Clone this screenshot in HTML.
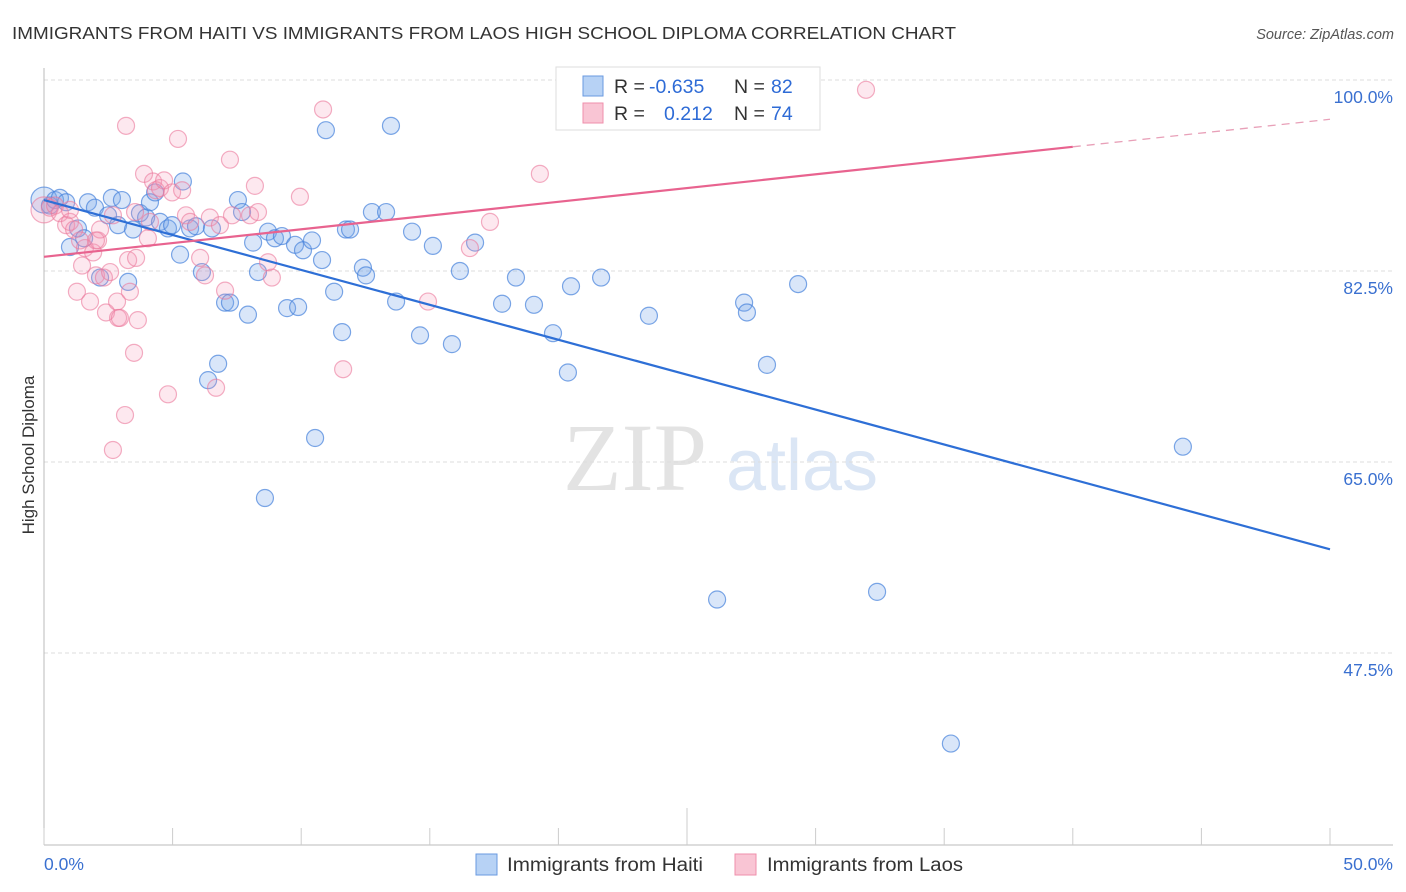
<!DOCTYPE html>
<html><head><meta charset="utf-8"><style>
body{margin:0;background:#fff;font-family:"Liberation Sans",sans-serif}
svg{display:block}
</style></head><body>
<svg id="c" width="1406" height="892" viewBox="0 0 1406 892">
<text x="12" y="39" font-size="17.5" fill="#333" textLength="944" lengthAdjust="spacingAndGlyphs">IMMIGRANTS FROM HAITI VS IMMIGRANTS FROM LAOS HIGH SCHOOL DIPLOMA CORRELATION CHART</text>
<text x="1394" y="39" font-size="14.5" fill="#555" text-anchor="end" font-style="italic">Source: ZipAtlas.com</text>
<text x="34" y="455" font-size="17" fill="#333" text-anchor="middle" transform="rotate(-90 34 455)">High School Diploma</text>
<g>
<text x="635" y="490" font-size="96" fill="#e3e3e3" font-family="Liberation Serif,serif" text-anchor="middle">ZIP</text>
<text x="802" y="490" font-size="72" fill="#dbe6f5" text-anchor="middle">atlas</text>
</g>
<g id="grid"></g><g id="pts"></g><g id="trend"></g>
<g>
<rect x="556" y="67" width="264" height="63" fill="#fff" stroke="#ddd"/>
<rect x="583" y="76" width="20" height="20" fill="#b7d2f5" stroke="#6a9ae0"/>
<rect x="583" y="103" width="20" height="20" fill="#f9c5d4" stroke="#ef8fab"/>
<text x="614" y="93" font-size="19.5" fill="#333">R =</text>
<text x="649" y="93" font-size="19.5" fill="#2e6bd6">-0.635</text>
<text x="734" y="93" font-size="19.5" fill="#333">N =</text>
<text x="771" y="93" font-size="19.5" fill="#2e6bd6">82</text>
<text x="614" y="120" font-size="19.5" fill="#333">R =</text>
<text x="664" y="120" font-size="19.5" fill="#2e6bd6">0.212</text>
<text x="734" y="120" font-size="19.5" fill="#333">N =</text>
<text x="771" y="120" font-size="19.5" fill="#2e6bd6">74</text>
</g>
<g>
<rect x="476" y="854" width="21" height="21" fill="#b7d2f5" stroke="#6a9ae0"/>
<text x="507" y="871" font-size="19" fill="#333" textLength="196" lengthAdjust="spacingAndGlyphs">Immigrants from Haiti</text>
<rect x="735" y="854" width="21" height="21" fill="#f9c5d4" stroke="#ef8fab"/>
<text x="767" y="871" font-size="19" fill="#333" textLength="196" lengthAdjust="spacingAndGlyphs">Immigrants from Laos</text>
</g>
</svg>
<script>
const yTicks=[100,82.5,65,47.5];
const yTickLabels=["100.0%","82.5%","65.0%","47.5%"];
const xTickVals=[0,5,10,15,20,25,30,35,40,45,50];
const xEndLabels=["0.0%","50.0%"];
const haitiX=[0,0.23,0.43,0.62,0.86,1.01,1.32,1.56,1.71,1.98,2.18,2.49,2.64,2.88,3.03,3.27,3.46,3.73,3.97,4.12,4.32,4.51,4.82,4.98,5.29,5.40,5.68,5.91,6.14,6.38,6.53,6.77,7.04,7.23,7.54,7.70,7.93,8.13,8.32,8.59,8.71,8.98,9.25,9.45,9.76,9.88,10.07,10.42,10.54,10.81,10.96,11.28,11.59,11.74,11.90,12.40,12.52,12.75,13.30,13.49,13.69,14.31,14.62,15.12,15.86,16.17,16.76,17.81,18.35,19.05,19.79,20.37,20.49,21.66,23.52,26.17,27.22,27.33,28.11,29.32,32.39,35.26,44.28];
const haitiY=[89.0,88.5,89.0,89.2,88.8,84.7,86.4,85.5,88.8,88.3,81.9,87.6,89.2,86.7,89.0,81.5,86.3,87.8,87.4,88.8,89.7,87.0,86.4,86.7,84.0,90.7,86.4,86.6,82.4,72.5,86.4,74.0,79.6,79.6,89.0,87.9,78.5,85.1,82.4,61.7,86.1,85.5,85.7,79.1,84.9,79.2,84.4,85.3,67.2,83.5,95.4,80.6,76.9,86.3,86.3,82.8,82.1,87.9,87.9,95.8,79.7,86.1,76.6,84.8,75.8,82.5,85.1,79.5,81.9,79.4,76.8,73.2,81.1,81.9,78.4,52.4,79.6,78.7,73.9,81.3,53.1,39.2,66.4];
const laosX=[0,0.23,0.43,0.62,0.86,1.01,1.17,1.28,1.48,1.59,1.79,1.91,2.02,2.10,2.18,2.33,2.41,2.57,2.68,2.84,2.88,2.95,3.19,3.27,3.34,3.50,3.58,3.65,3.89,4.04,4.12,4.24,4.35,4.51,4.67,4.82,4.98,5.21,5.37,5.52,5.68,6.07,6.26,6.45,6.69,6.84,7.04,7.23,7.31,8.01,8.20,8.32,8.71,8.86,9.95,10.85,11.63,14.93,16.56,17.34,19.28,31.96,3.15,2.68,1.01,2.02,3.54,1.40];
const laosY=[88.1,88.3,88.5,87.8,86.7,87.0,86.3,80.6,83.0,84.6,79.7,84.2,82.1,85.3,86.3,81.9,78.7,82.4,87.6,79.7,78.2,78.2,95.8,83.5,80.6,75.0,83.7,78.0,91.4,85.5,87.0,90.7,89.9,90.1,90.8,71.2,89.7,94.6,89.9,87.6,87.0,83.7,82.1,87.4,71.8,86.7,80.7,92.7,87.6,87.6,90.3,87.9,83.3,81.9,89.3,97.3,73.5,79.7,84.6,87.0,91.4,99.1,69.3,66.1,88.1,85.3,87.9,85.3];
const haitiTrend=[89.0,57.0];
const laosTrend=[83.8,96.4];
const laosSolidEnd=40;

const NS="http://www.w3.org/2000/svg";
const X=v=>44+v/50*1286;
const Y=v=>80+(100-v)*10.914;
function mk(tag,attrs,parent){const e=document.createElementNS(NS,tag);for(const k in attrs)e.setAttribute(k,attrs[k]);parent.appendChild(e);return e;}
const grid=document.getElementById('grid'),pts=document.getElementById('pts'),tr=document.getElementById('trend');
yTicks.forEach((t,i)=>{
 const l=mk('line',{x1:44,x2:1393,y1:Y(t),y2:Y(t),stroke:'#ddd','stroke-dasharray':'4 3'},grid);
 
 
 const tx=mk('text',{x:1393,y:Y(t)+23,'font-size':17.5,fill:'#3a70d0','text-anchor':'end'},grid);
 tx.textContent=yTickLabels[i];
 
 
});
const ya=mk('line',{x1:44,x2:44,y1:68,y2:845,stroke:'#bbb'},grid);


const xa=mk('line',{x1:44,x2:1393,y1:845,y2:845,stroke:'#bbb'},grid);


xTickVals.forEach(t=>{
 const l=mk('line',{x1:X(t),x2:X(t),y1:(t==25?808:828),y2:845,stroke:'#ccc'},grid);
 
 
});
[[0,'start',44],[50,'end',1393]].forEach((p,i)=>{
 const tx=mk('text',{x:p[2],y:870,'font-size':17.5,fill:'#3a70d0','text-anchor':p[1]},grid);
 tx.textContent=xEndLabels[i];
 
 
});
function dots(xs,ys,fill,stroke,name){
 xs.forEach((x,i)=>{
  const c=mk('circle',{cx:X(x),cy:Y(ys[i]),r:i==0?13:8.5,fill:fill,stroke:stroke,'stroke-width':1.2},pts);
  
  
 });
}
dots(haitiX,haitiY,'rgba(120,165,235,0.28)','rgba(70,130,220,0.7)','haiti-point');
dots(laosX,laosY,'rgba(245,150,180,0.22)','rgba(235,120,155,0.6)','laos-point');
const bl=mk('line',{x1:X(0),y1:Y(haitiTrend[0]),x2:X(50),y2:Y(haitiTrend[1]),stroke:'#2e6fd6','stroke-width':2.2},tr);


const ly=v=>laosTrend[0]+(laosTrend[1]-laosTrend[0])*v/50;
const pl=mk('line',{x1:X(0),y1:Y(ly(0)),x2:X(laosSolidEnd),y2:Y(ly(laosSolidEnd)),stroke:'#e8638f','stroke-width':2.2},tr);


const pd=mk('line',{x1:X(laosSolidEnd),y1:Y(ly(laosSolidEnd)),x2:X(50),y2:Y(ly(50)),stroke:'#e8a0b8','stroke-width':1.3,'stroke-dasharray':'8 6'},tr);


</script>
</body></html>
